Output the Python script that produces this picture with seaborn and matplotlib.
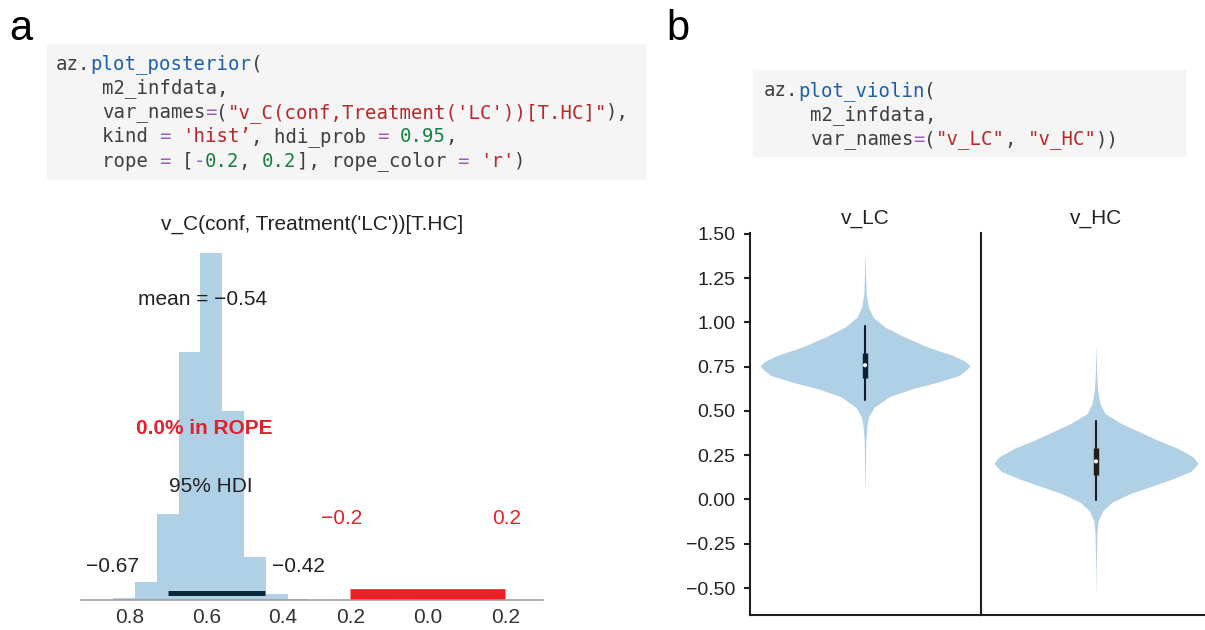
import matplotlib
matplotlib.use("Agg")
import matplotlib.pyplot as plt
import seaborn as sns
from matplotlib import font_manager
from matplotlib.patches import Rectangle

# ---- panel a: posterior histogram ----
hist_edges = [-0.812, -0.756, -0.700, -0.643, -0.587, -0.531, -0.475, -0.418,
              -0.362, -0.306, -0.250, -0.194, -0.137, -0.081, -0.025]
hist_counts = [23, 183, 860, 2477, 3473, 1890, 433, 62, 8, 0, 0, 0, 0, 10]
post_mean = -0.54
hdi = [-0.67, -0.42]
rope = [-0.2, 0.2]
rope_pct = 0.0
post_title = "v_C(conf, Treatment('LC'))[T.HC]"
xtick_pos = [-0.769, -0.570, -0.374, -0.2, 0.0, 0.2]
xtick_labels = ["0.8", "0.6", "0.4", "0.2", "0.0", "0.2"]

# ---- panel b: violin outlines (value, half width) ----
violin_names = ["v_LC", "v_HC"]
lc_vals = [1.40, 1.27, 1.16, 1.086, 1.03, 0.973, 0.916, 0.860, 0.813, 0.78, 0.755,
           0.73, 0.70, 0.663, 0.625, 0.58, 0.52, 0.465, 0.41, 0.33, 0.09, 0.05]
lc_width = [0, 0.6, 1.2, 3.3, 8, 20, 40, 63, 88, 100, 105,
            101, 94, 73, 47, 24, 9, 3.5, 1.8, 0.8, 0.2, 0]
hc_vals = [0.88, 0.73, 0.62, 0.54, 0.485, 0.43, 0.37, 0.334, 0.288, 0.24, 0.204,
           0.16, 0.117, 0.07, 0.033, -0.015, -0.062, -0.118, -0.19, -0.36, -0.55]
hc_width = [0, 0.6, 1.5, 4, 9, 25, 48, 62, 82, 97, 102,
            95, 77, 53, 34, 16, 7, 2.2, 1, 0.35, 0]
# whisker low/high, quartile low/high, median
lc_box = [0.559, 0.982, 0.687, 0.828, 0.758]
hc_box = [-0.005, 0.442, 0.136, 0.292, 0.215]
ytick_vals = [1.50, 1.25, 1.00, 0.75, 0.50, 0.25, 0.00, -0.25, -0.50]

code_a = [
    [("az.", "k"), ("plot_posterior", "b"), ("(", "k")],
    [("    m2_infdata,", "k")],
    [("    var_names", "k"), ("=", "p"), ("(", "k"),
     ("\"v_C(conf,Treatment('LC'))[T.HC]\"", "r"), ("),", "k")],
    [("    kind ", "k"), ("=", "p"), (" 'hist\u2019", "r"), (", hdi_prob ", "k"),
     ("=", "p"), (" 0.95", "g"), (",", "k")],
    [("    rope ", "k"), ("=", "p"), (" [", "k"), ("-", "p"), ("0.2", "g"), (", ", "k"),
     ("0.2", "g"), ("], rope_color ", "k"), ("=", "p"), (" 'r'", "r"), (")", "k")],
]
code_b = [
    [("az.", "k"), ("plot_violin", "b"), ("(", "k")],
    [("    m2_infdata,", "k")],
    [("    var_names", "k"), ("=", "p"), ("(", "k"), ("\"v_LC\"", "r"), (", ", "k"),
     ("\"v_HC\"", "r"), ("))", "k")],
]

code_colors = {"k": "#404040", "b": "#1f5fab", "p": "#9d5cbd", "r": "#b8292b", "g": "#17803f"}
blue = "#b0d0e6"
red = "#ee1f25"
dark = "#222222"

sns.set_style("white")

# condensed look if the narrow face is installed
try:
    font_manager.findfont("Liberation Sans Narrow", fallback_to_default=False)
    main_font, fs = "Liberation Sans Narrow", 17
except ValueError:
    main_font, fs = "Liberation Sans", 15
plt.rcParams["font.family"] = [main_font, "DejaVu Sans"]
ytick_fs = fs - 1

W, H = 1205, 630
fig = plt.figure(figsize=(W / 100, H / 100), dpi=100)


def fx(px):
    return px / W


def fy(py):
    return 1 - py / H


def code_block(x0, y0, lines, box):
    bx0, by0, bx1, by1 = box
    fig.patches.append(Rectangle((fx(bx0), fy(by1)), (bx1 - bx0) / W, (by1 - by0) / H,
                                 transform=fig.transFigure, color="#f5f5f5", zorder=0))
    size = 13.7
    cw = 0.602 * size * fig.dpi / 72
    for i, segs in enumerate(lines):
        col = 0
        for s, c in segs:
            txt = s.lstrip(" ")
            off = len(s) - len(txt)
            fig.text(fx(x0 + (col + off) * cw), fy(y0 + i * 24.3), txt,
                     color=code_colors[c], family="DejaVu Sans Mono", size=size,
                     ha="left", va="center")
            col += len(s)


# panel labels and code snippets
fig.text(fx(9), fy(40), "a", size=fs * 2, va="baseline", color="black")
fig.text(fx(666), fy(40), "b", size=fs * 2, va="baseline", color="black")
code_block(56, 64, code_a, (47, 44, 645, 179))
code_block(764, 91, code_b, (753, 70, 1185, 156))

# ---- panel a ----
ax = fig.add_axes([fx(81), fy(600), (543 - 81) / W, (600 - 245) / H])
centers = [(a + b) / 2 for a, b in zip(hist_edges[:-1], hist_edges[1:])]
sns.histplot(x=centers, weights=hist_counts, bins=hist_edges, ax=ax,
             color=blue, alpha=1, linewidth=0)
ax.plot(hdi, [67, 67], color="#0d2538", lw=3.6, solid_capstyle="butt")
ax.plot(rope, [64, 64], color=red, lw=7.7, solid_capstyle="butt")

ax.text(-0.581, 3000, f"mean = {post_mean:.2f}".replace("-", "\u2212"),
        ha="center", va="center", size=fs, color=dark)
ax.text(-0.578, 1720, f"{rope_pct:.1f}% in ROPE", ha="center", va="center",
        size=fs, color="#e3202c", weight="bold")
ax.text(-0.561, 1130, "95% HDI", ha="center", va="center", size=fs, color=dark)
ax.text(-0.813, 330, f"{hdi[0]:.2f}".replace("-", "\u2212"), ha="center", va="center",
        size=fs, color=dark)
ax.text(-0.335, 330, f"{hdi[1]:.2f}".replace("-", "\u2212"), ha="center", va="center",
        size=fs, color=dark)
ax.text(-0.222, 820, f"{rope[0]:.1f}".replace("-", "\u2212"), ha="center", va="center",
        size=fs, color=red)
ax.text(0.204, 820, f"{rope[1]:.1f}", ha="center", va="center", size=fs, color=red)

ax.set_xlim(-0.895, 0.297)
ax.set_ylim(0, 3550)
ax.set_xticks(xtick_pos)
ax.set_xticklabels(xtick_labels)
ax.set_yticks([])
ax.set_ylabel("")
ax.tick_params(axis="x", length=0, pad=5.5, labelsize=fs, labelcolor="#333333")
for side in ["left", "right", "top"]:
    ax.spines[side].set_visible(False)
ax.spines["bottom"].set_color("#9a9a9a")
ax.spines["bottom"].set_linewidth(1.1)
ax.set_title(post_title, size=fs, pad=11, color=dark)

# ---- panel b ----
ax_lc = fig.add_axes([fx(749.5), fy(615), 231 / W, (615 - 232.7) / H])
ax_hc = fig.add_axes([fx(980.5), fy(615), 231 / W, (615 - 232.7) / H], sharey=ax_lc)

peak = max(lc_width)
for a, name, vals, widths, box, bc in [
        (ax_lc, violin_names[0], lc_vals, lc_width, lc_box, "#0b2133"),
        (ax_hc, violin_names[1], hc_vals, hc_width, hc_box, "#1e1e1e")]:
    hw = [w / peak * 0.455 for w in widths]
    a.fill_betweenx(vals, [-w for w in hw], hw, color=blue, linewidth=0)
    a.plot([0, 0], box[:2], color=bc, lw=1.5)
    a.plot([0, 0], box[2:4], color=bc, lw=3.9, solid_capstyle="butt")
    a.scatter([0], [box[4]], s=9, color="white", edgecolor="none", zorder=5)
    a.set_xlim(-0.5, 0.5)
    a.set_xticks([])
    a.set_title(name, size=fs, pad=6.3, color=dark)
    for side in ["right", "top"]:
        a.spines[side].set_visible(False)
    for side in ["left", "bottom"]:
        a.spines[side].set_color("#231f20")
        a.spines[side].set_linewidth(1.5)

ax_lc.set_ylim(-0.652, 1.506)
ax_lc.set_yticks(ytick_vals)
ax_lc.set_yticklabels([f"{v:.2f}".replace("-", "\u2212") for v in ytick_vals])
ax_lc.tick_params(axis="y", direction="out", length=4.3, width=1.5, color="#231f20",
                  pad=5.8, labelsize=ytick_fs, labelcolor=dark, left=True)
ax_hc.tick_params(axis="y", left=False, labelleft=False)

fig.savefig("out.png", dpi=100)
